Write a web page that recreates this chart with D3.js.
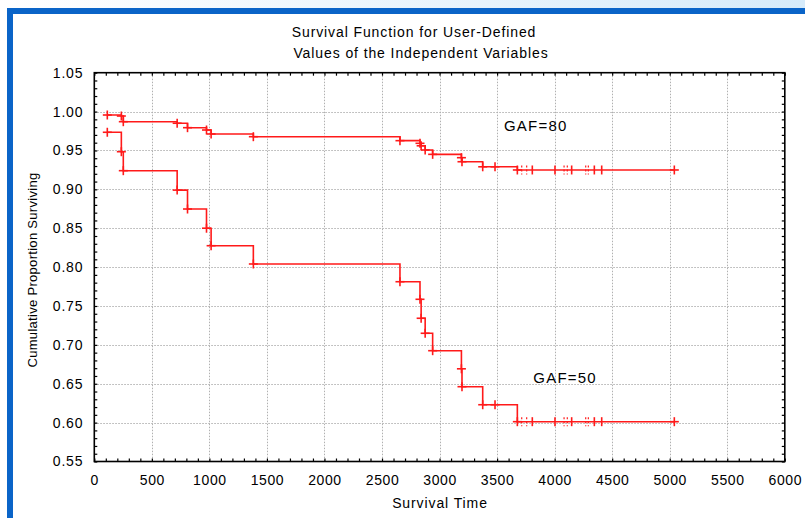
<!DOCTYPE html>
<html><head><meta charset="utf-8">
<script src="https://cdnjs.cloudflare.com/ajax/libs/d3/7.8.5/d3.min.js"></script>
<style>
html,body{margin:0;padding:0;background:#fff;}
svg{display:block;}
text{font-family:"Liberation Sans",Arial,sans-serif;fill:#000;}
</style></head>
<body>
<svg id="chart" width="805" height="518"></svg>
<script>
// ---- data ----
const times = [113, 235, 252, 720, 810, 975, 1015, 1382, 2656, 2830, 2840, 2875, 2940, 3190, 3195, 3375, 3482, 3676, 5040];
const gaf80 = [0.9956, 0.9943, 0.987, 0.985, 0.9793, 0.9763, 0.9712, 0.9677, 0.9626, 0.9592, 0.956, 0.9506, 0.945, 0.9407, 0.9355, 0.929, 0.929, 0.9249, 0.9249];
const gaf50 = [0.9734, 0.9484, 0.924, 0.899, 0.8747, 0.850, 0.8275, 0.804, 0.7812, 0.7586, 0.7342, 0.7149, 0.6925, 0.6692, 0.6462, 0.623, 0.623, 0.6012, 0.6012];
const censorSolid = [3806, 4003, 4148, 4345, 4409];
const censorDotted = [3714, 3757, 4082, 4110, 4270, 4293];
const xTicks = [0, 500, 1000, 1500, 2000, 2500, 3000, 3500, 4000, 4500, 5000, 5500, 6000];
const yTicks = [0.55, 0.60, 0.65, 0.70, 0.75, 0.80, 0.85, 0.90, 0.95, 1.00, 1.05];
const seriesLabels = ["GAF=80", "GAF=50"];
const labelPos = [[3560, 0.9745], [3815, 0.6515]];

const svg = d3.select("#chart");
const W = 805, H = 518;

// background frame
const defs = svg.append("defs");
const g = defs.append("linearGradient").attr("id","topg").attr("x1","0").attr("x2","1").attr("y1","0").attr("y2","0");
g.append("stop").attr("offset","0").attr("stop-color","#ffffff");
g.append("stop").attr("offset","1").attr("stop-color","#d6ebfa");
svg.append("rect").attr("x",0).attr("y",0).attr("width",W).attr("height",H).attr("fill","url(#topg)");
svg.append("rect").attr("x",7).attr("y",8).attr("width",W-7).attr("height",H-8).attr("fill","#0a64c8");
svg.append("rect").attr("x",13).attr("y",14).attr("width",W-13).attr("height",H-14).attr("fill","#ffffff");

const x = d3.scaleLinear().domain([0, 6000]).range([94.3, 784.8]);
const y = d3.scaleLinear().domain([0.55, 1.05]).range([461.5, 72.7]);

// grid
const grid = svg.append("g");
grid.selectAll("line.gx").data(xTicks.slice(1, -1)).join("line")
  .attr("x1", d => Math.round(x(d)) + 0.5).attr("x2", d => Math.round(x(d)) + 0.5)
  .attr("y1", y(1.05)).attr("y2", y(0.55))
  .attr("stroke", "#b0b0b0").attr("stroke-width", 1).attr("stroke-dasharray", "1.5,1.5");
grid.selectAll("line.gy").data(yTicks.slice(1, -1)).join("line")
  .attr("y1", d => Math.round(y(d)) + 0.5).attr("y2", d => Math.round(y(d)) + 0.5)
  .attr("x1", x(0)).attr("x2", x(6000))
  .attr("stroke", "#b0b0b0").attr("stroke-width", 1).attr("stroke-dasharray", "1.5,1.5");

// minor ticks via axes
const minorX = d3.range(0, 6001, 100);
const minorY = d3.range(0, 51).map(i => +(0.55 + i * 0.01).toFixed(2));
function styleAxis(sel){ sel.select(".domain").remove(); sel.selectAll("line").attr("stroke","#000").attr("stroke-width",1.2); }
svg.append("g").attr("transform", `translate(0,${y(0.55)})`)
  .call(d3.axisBottom(x).tickValues(minorX).tickSize(-3).tickFormat("")).call(styleAxis);
svg.append("g").attr("transform", `translate(0,${y(1.05)})`)
  .call(d3.axisTop(x).tickValues(minorX).tickSize(-3).tickFormat("")).call(styleAxis);
svg.append("g").attr("transform", `translate(${x(0)},0)`)
  .call(d3.axisLeft(y).tickValues(minorY).tickSize(-3).tickFormat("")).call(styleAxis);
svg.append("g").attr("transform", `translate(${x(6000)},0)`)
  .call(d3.axisRight(y).tickValues(minorY).tickSize(-3).tickFormat("")).call(styleAxis);

// tick labels
const xl = svg.append("g").attr("transform", `translate(0,${y(0.55)})`)
  .call(d3.axisBottom(x).tickValues(xTicks).tickSize(0).tickPadding(14).tickFormat(d3.format("d")));
xl.select(".domain").remove();
xl.selectAll("text").attr("font-size", 14).attr("letter-spacing", 0.6).attr("font-family", "Liberation Sans, Arial, sans-serif").attr("fill","#000");
const yl = svg.append("g").attr("transform", `translate(${x(0)},0)`)
  .call(d3.axisLeft(y).tickValues(yTicks).tickSize(0).tickPadding(11).tickFormat(d3.format(".2f")));
yl.select(".domain").remove();
yl.selectAll("text").attr("font-size", 14).attr("letter-spacing", 0.8).attr("font-family", "Liberation Sans, Arial, sans-serif").attr("fill","#000");

// frame
svg.append("rect").attr("x", x(0)).attr("y", y(1.05)).attr("width", x(6000) - x(0)).attr("height", y(0.55) - y(1.05))
  .attr("fill", "none").attr("stroke", "#000").attr("stroke-width", 1.6);

// curves
const red = "#ff1a1a";
const line = d3.line().x(d => x(d[0])).y(d => y(d[1])).curve(d3.curveStepAfter);
[gaf80, gaf50].forEach((vals, si) => {
  const pts = times.map((t, i) => [t, vals[i]]);
  svg.append("path").attr("d", line(pts)).attr("fill", "none").attr("stroke", red).attr("stroke-width", 1.6);
  const gm = svg.append("g").attr("stroke", red).attr("stroke-width", 1.6);
  pts.forEach(p => {
    const cx = x(p[0]), cy = y(p[1]);
    gm.append("line").attr("x1", cx - 4.5).attr("x2", cx + 4.5).attr("y1", cy).attr("y2", cy);
    gm.append("line").attr("x1", cx).attr("x2", cx).attr("y1", cy - 4.5).attr("y2", cy + 4.5);
  });
  const last = vals[vals.length - 1];
  censorSolid.forEach(t => {
    gm.append("line").attr("x1", x(t)).attr("x2", x(t)).attr("y1", y(last) - 4.5).attr("y2", y(last) + 4.5);
  });
  censorDotted.forEach(t => {
    gm.append("line").attr("x1", x(t)).attr("x2", x(t)).attr("y1", y(last) - 4.5).attr("y2", y(last) + 4.5)
      .attr("stroke-dasharray", "2,2").attr("stroke-width", 1.2);
  });
  svg.append("text").attr("x", x(labelPos[si][0])).attr("y", y(labelPos[si][1]))
    .attr("font-size", 15).attr("letter-spacing", 1.2).text(seriesLabels[si]);
});

// titles
svg.append("text").attr("x", 414).attr("y", 37).attr("text-anchor", "middle").attr("font-size", 14).attr("letter-spacing", 0.9)
  .text("Survival Function for User-Defined");
svg.append("text").attr("x", 421).attr("y", 58).attr("text-anchor", "middle").attr("font-size", 14).attr("letter-spacing", 0.9)
  .text("Values of the Independent Variables");
svg.append("text").attr("x", 440).attr("y", 508).attr("text-anchor", "middle").attr("font-size", 14).attr("letter-spacing", 0.9)
  .text("Survival Time");
svg.append("text").attr("transform", "translate(37,270) rotate(-90)").attr("text-anchor", "middle").attr("font-size", 13).attr("letter-spacing", 0.3)
  .text("Cumulative Proportion Surviving");
</script>
</body></html>
